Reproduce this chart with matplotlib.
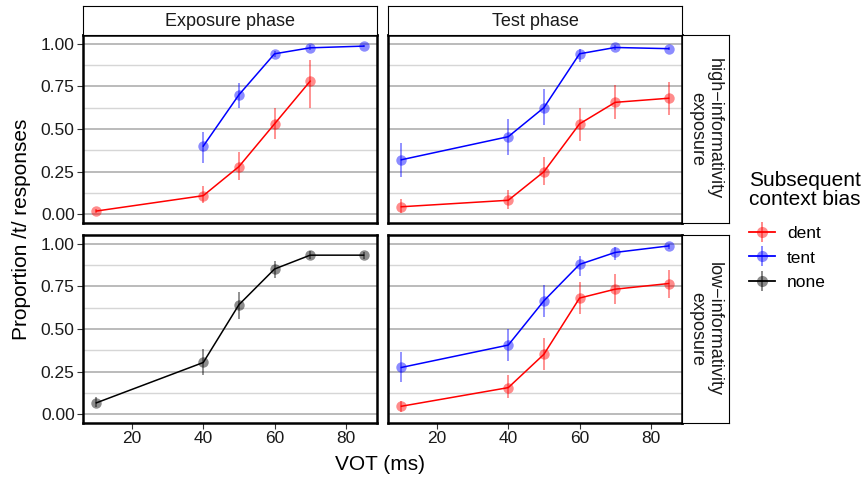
import matplotlib
matplotlib.use("Agg")
import matplotlib.pyplot as plt
from matplotlib.lines import Line2D
from matplotlib.legend_handler import HandlerTuple
import numpy as np

plt.rcParams['font.family'] = ['Liberation Sans', 'DejaVu Sans']

vot = [10, 40, 50, 60, 70, 85]

# exposure phase, high-informativity
exp_hi_dent_x = [10, 40, 50, 60, 70]
exp_hi_dent = [0.02, 0.11, 0.28, 0.53, 0.78]
exp_hi_dent_lo = [0.01, 0.065, 0.20, 0.44, 0.62]
exp_hi_dent_hi = [0.03, 0.165, 0.365, 0.62, 0.905]
exp_hi_tent_x = [40, 50, 60, 70, 85]
exp_hi_tent = [0.40, 0.70, 0.94, 0.975, 0.985]
exp_hi_tent_lo = [0.30, 0.62, 0.92, 0.96, 0.98]
exp_hi_tent_hi = [0.485, 0.77, 0.955, 0.99, 0.99]

# test phase, high-informativity
test_hi_dent = [0.045, 0.083, 0.25, 0.53, 0.656, 0.68]
test_hi_dent_lo = [0.01, 0.03, 0.17, 0.43, 0.56, 0.58]
test_hi_dent_hi = [0.09, 0.145, 0.336, 0.62, 0.76, 0.776]
test_hi_tent = [0.32, 0.455, 0.625, 0.94, 0.977, 0.97]
test_hi_tent_lo = [0.22, 0.35, 0.525, 0.89, 0.96, 0.96]
test_hi_tent_hi = [0.42, 0.56, 0.735, 0.97, 0.99, 0.98]

# exposure phase, low-informativity
exp_lo_none = [0.068, 0.304, 0.642, 0.851, 0.932, 0.932]
exp_lo_none_lo = [0.045, 0.23, 0.56, 0.797, 0.907, 0.907]
exp_lo_none_hi = [0.10, 0.385, 0.714, 0.897, 0.957, 0.951]

# test phase, low-informativity
test_lo_dent = [0.048, 0.157, 0.352, 0.681, 0.733, 0.766]
test_lo_dent_lo = [0.017, 0.095, 0.26, 0.588, 0.648, 0.681]
test_lo_dent_hi = [0.077, 0.232, 0.45, 0.774, 0.82, 0.845]
test_lo_tent = [0.275, 0.406, 0.665, 0.878, 0.948, 0.986]
test_lo_tent_lo = [0.19, 0.313, 0.57, 0.812, 0.903, 0.97]
test_lo_tent_hi = [0.367, 0.50, 0.758, 0.928, 0.98, 1.0]

col_names = ["Exposure phase", "Test phase"]
row_names = ["high\u2212informativity\nexposure", "low\u2212informativity\nexposure"]
bias_labels = ["dent", "tent", "none"]
bias_colors = {"dent": "#FF0000", "tent": "#0000FF", "none": "#000000"}

W, H = 865, 478
fig = plt.figure(figsize=(W / 100, H / 100), dpi=100)

def box(l, t, r, b):
    return [l / W, (H - b) / H, (r - l) / W, (b - t) / H]

lefts = [83, 388]
rights = [377, 682]
tops = [35, 235]
bottoms = [223, 423]

def draw_series(ax, x, y, lo, hi, bias):
    c = bias_colors[bias]
    y = np.array(y)
    ax.vlines(x, lo, hi, color=c, alpha=0.5, lw=1.2, zorder=3)
    ax.plot(x, y, color=c, lw=1.1, zorder=4)
    ax.plot(x, y, 'o', color=c, alpha=0.45, ms=7.5, mec='none', zorder=5)

axes = {}
for r in range(2):
    for c in range(2):
        ax = fig.add_axes(box(lefts[c], tops[r], rights[c], bottoms[r]))
        axes[(r, c)] = ax
        ax.set_xlim(6.25, 88.75)
        ax.set_ylim(-0.05, 1.05)
        ax.set_yticks([0, 0.25, 0.5, 0.75, 1.0])
        ax.set_yticks([0.125, 0.375, 0.625, 0.875], minor=True)
        ax.grid(axis='y', which='major', color='#B5B5B5', lw=1.3, zorder=0)
        ax.grid(axis='y', which='minor', color='#D6D6D6', lw=1.0, zorder=0)
        ax.set_axisbelow(True)
        ax.set_xticks([20, 40, 60, 80])
        for s in ax.spines.values():
            s.set_linewidth(1.8)
            s.set_color('black')
        ax.tick_params(which='minor', length=0)
        ax.tick_params(which='major', direction='out', length=4, width=0.8,
                       color='#333333', labelsize=12.5, labelcolor='#1a1a1a', pad=2)
        if c == 0:
            ax.set_yticklabels(["0.00", "0.25", "0.50", "0.75", "1.00"])
        else:
            ax.tick_params(axis='y', left=False, labelleft=False)
        if r == 0:
            ax.tick_params(axis='x', bottom=False, labelbottom=False)

draw_series(axes[(0, 0)], exp_hi_dent_x, exp_hi_dent, exp_hi_dent_lo, exp_hi_dent_hi, "dent")
draw_series(axes[(0, 0)], exp_hi_tent_x, exp_hi_tent, exp_hi_tent_lo, exp_hi_tent_hi, "tent")
draw_series(axes[(0, 1)], vot, test_hi_dent, test_hi_dent_lo, test_hi_dent_hi, "dent")
draw_series(axes[(0, 1)], vot, test_hi_tent, test_hi_tent_lo, test_hi_tent_hi, "tent")
draw_series(axes[(1, 0)], vot, exp_lo_none, exp_lo_none_lo, exp_lo_none_hi, "none")
draw_series(axes[(1, 1)], vot, test_lo_dent, test_lo_dent_lo, test_lo_dent_hi, "dent")
draw_series(axes[(1, 1)], vot, test_lo_tent, test_lo_tent_lo, test_lo_tent_hi, "tent")

# strips on top
for c in range(2):
    sax = fig.add_axes(box(lefts[c], 6, rights[c], 35))
    sax.set_xticks([]); sax.set_yticks([])
    for s in sax.spines.values():
        s.set_linewidth(0.8)
    sax.text(0.5, 0.48, col_names[c], ha='center', va='center', fontsize=13,
             color='#1a1a1a', transform=sax.transAxes)

# strips on the right
for r in range(2):
    sax = fig.add_axes(box(682, tops[r], 729, bottoms[r]))
    sax.set_xticks([]); sax.set_yticks([])
    for s in sax.spines.values():
        s.set_linewidth(0.8)
    sax.text(0.5, 0.5, row_names[r], ha='center', va='center', fontsize=13,
             rotation=-90, color='#1a1a1a', linespacing=1.0,
             transform=sax.transAxes)

fig.text(380 / W, 1 - 465 / H, "VOT (ms)", ha='center', va='center', fontsize=15)
fig.text(22 / W, 1 - 229 / H, "Proportion /t/ responses", ha='center', va='center',
         rotation=90, fontsize=15)

# legend
handles = []
for b in bias_labels:
    col = bias_colors[b]
    hline = Line2D([0], [0], color=col, lw=1.3)
    vbar = Line2D([0], [0], ls='none', marker='|', ms=15, mew=1.3, color=col, alpha=0.5)
    dot = Line2D([0], [0], ls='none', marker='o', ms=8, color=col, alpha=0.45, mec='none')
    handles.append((hline, vbar, dot))
leg = fig.legend(handles, bias_labels, title="Subsequent\ncontext bias",
                 loc='upper left', bbox_to_anchor=(749 / W, 1 - 171 / H),
                 frameon=False, fontsize=12.5, title_fontsize=15,
                 borderpad=0, borderaxespad=0,
                 handlelength=1.5, handletextpad=0.7, labelspacing=0.55,
                 handler_map={tuple: HandlerTuple(ndivide=1, pad=0)})
leg._legend_box.align = "left"
leg._legend_box.sep = 12
leg.get_title().set_linespacing(1.0)

fig.savefig("out.png", dpi=100)
